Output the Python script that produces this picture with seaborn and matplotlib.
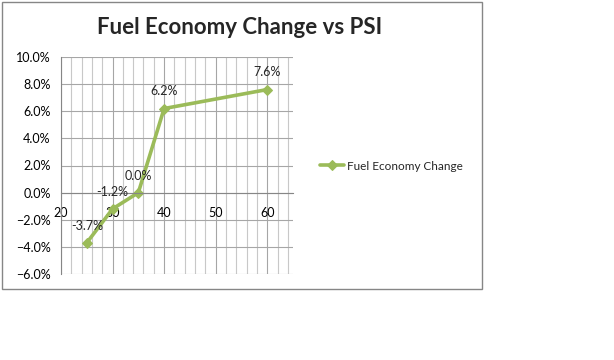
import numpy as np
import pandas as pd
import matplotlib
matplotlib.use("Agg")
import matplotlib.pyplot as plt
from matplotlib.patches import Rectangle
from matplotlib.ticker import PercentFormatter, MultipleLocator
import seaborn as sns

psi = [25, 30, 35, 40, 60]
change = [-0.037, -0.012, 0.000, 0.062, 0.076]
series_name = "Fuel Economy Change"

sns.set_style("white")
plt.rcParams["font.family"] = ["Lato", "DejaVu Sans"]

GREEN = "#9BBB59"
GRID = "#A6A6A6"

df = pd.DataFrame({"PSI": psi, "Change": change, "Series": series_name})

fig = plt.figure(figsize=(6.14, 3.6), dpi=100)
ax = fig.add_axes([61 / 614, 1 - 274 / 360, 232 / 614, 217 / 360])

sns.lineplot(data=df, x="PSI", y="Change", hue="Series", palette=[GREEN],
             marker="D", markersize=5.5, markeredgecolor=GREEN, linewidth=2.6,
             sort=False, ax=ax)

ax.set_xlim(20, 65)
ax.set_ylim(-0.06, 0.10)
ax.xaxis.set_major_locator(MultipleLocator(10))
ax.xaxis.set_minor_locator(MultipleLocator(2))
ax.yaxis.set_major_locator(MultipleLocator(0.02))
ax.yaxis.set_major_formatter(PercentFormatter(1.0, decimals=1))
ax.set_xticks([20, 30, 40, 50, 60])
ax.set_xlabel("")
ax.set_ylabel("")

ax.grid(True, which="major", axis="both", color=GRID, linewidth=0.8)
ax.grid(True, which="minor", axis="x", color="#C8C8C8", linewidth=0.8)
ax.set_axisbelow(True)

for s in ["top", "right"]:
    ax.spines[s].set_visible(False)
ax.spines["bottom"].set_position(("data", 0))
ax.spines["bottom"].set_color("#868686")
ax.spines["left"].set_color("#868686")

ax.tick_params(axis="both", which="major", labelsize=9, colors="#000000",
               direction="out", length=4, color="#868686")
ax.tick_params(axis="x", which="minor", length=0)
ax.tick_params(axis="x", pad=6)

for xv, yv in zip(psi, change):
    ax.annotate(f"{yv * 100:.1f}%", (xv, yv), xytext=(0, 8),
                textcoords="offset points", ha="center", va="bottom", fontsize=9)

handles, labels = ax.get_legend_handles_labels()
ax.legend(handles, labels, loc="center left", frameon=False, fontsize=8.5,
          handlelength=2.0, handletextpad=0.25, borderpad=0, borderaxespad=0,
          bbox_to_anchor=(320 / 614, 1 - 166 / 360), bbox_transform=fig.transFigure)

fig.text(240 / 614, 1 - 28 / 360, "Fuel Economy Change vs PSI", ha="center",
         va="center", fontsize=16, fontweight="bold")

fig.patches.append(Rectangle((2 / 614, 1 - 289 / 360), 480 / 614, 287 / 360,
                             transform=fig.transFigure, fill=False,
                             edgecolor="#868686", linewidth=1))

fig.savefig("out.png", dpi=100)
plt.close(fig)
